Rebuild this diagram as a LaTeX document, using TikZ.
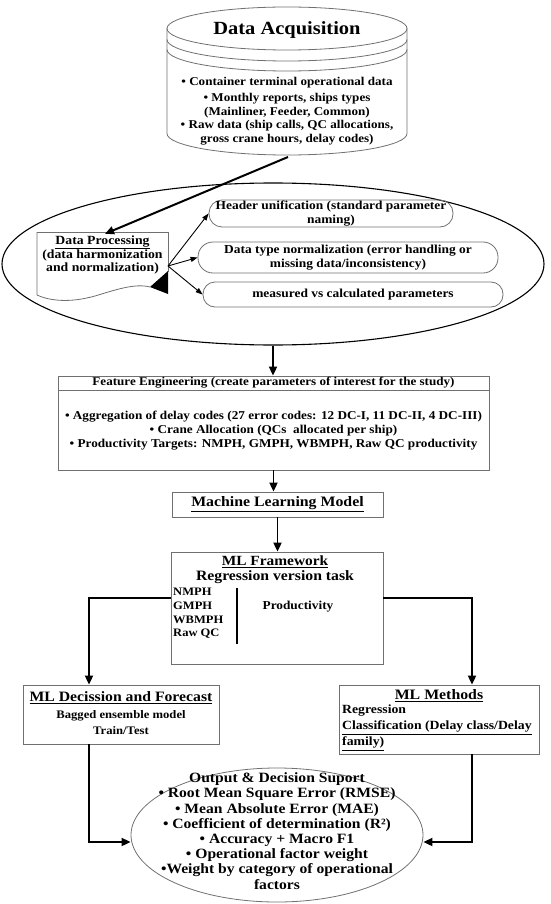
\documentclass[tikz,border=0pt]{standalone}
\usepackage{fontspec}
\setmainfont{Liberation Serif}[FakeStretch=1.1]
\usetikzlibrary{arrows.meta,shapes.geometric}
\definecolor{boxgray}{HTML}{707070}
\newcommand{\myfs}[2]{\fontsize{#1}{#2}\selectfont\bfseries}
\begin{document}
\begin{tikzpicture}[x=1pt,y=-1pt,
  conn/.style={line width=1.8pt,-{Triangle[length=9pt,width=8pt]}},
  thinconn/.style={line width=0.9pt,-{Triangle[length=7pt,width=5pt]}},
  cylline/.style={draw=boxgray,line width=0.8pt},
  graybox/.style={draw=boxgray,line width=0.8pt,rectangle,inner sep=0pt},
  pill/.style={draw=boxgray,line width=0.8pt,rectangle,inner sep=0pt,align=center,font={\myfs{12.2}{14}}},
  txt/.style={inner sep=0pt,align=center}]
\useasboundingbox (0,0) rectangle (550,904);

% ---------- Data acquisition cylinder
\draw[cylline] (287,28.5) ellipse[x radius=120,y radius=21.5];
\draw[cylline] (167,39.5) arc[start angle=180,end angle=0,x radius=120,y radius=21.5];
\draw[cylline] (167,49.5) arc[start angle=180,end angle=0,x radius=120,y radius=21.5];
\draw[cylline] (167,28.5) -- (167,133.5) arc[start angle=180,end angle=0,x radius=120,y radius=21.5] -- (407,28.5);
\node[txt,font={\myfs{18.6}{20}}] (acqtitle) at (287,30) {Data Acquisition};
\node[txt,font={\myfs{11.9}{13.5}}] (acqbody) at (287,111) {• Container terminal operational data\\[2.5pt]
 • Monthly reports, ships types\\ (Mainliner, Feeder, Common)\\ • Raw data (ship calls, QC allocations,\\ gross crane hours, delay codes)};
\coordinate (acqbot) at (288,157);

% ---------- Data processing ellipse
\node[draw,line width=1.1pt,ellipse,minimum width=542pt,minimum height=162pt,inner sep=0pt] (pell) at (273,264) {};

\node[txt,minimum width=131pt,minimum height=40pt,font={\myfs{12.5}{13.5}}] (proc) at (102.5,255)
 {\underline{Data Processing}\\(data harmonization\\and normalization)};
\draw[cylline] (37,232) -- (168,232) -- (168,272);
\draw[cylline] (37,232) -- (37,295) .. controls (50,301) and (70,303) .. (95,296)
  .. controls (115,290) and (135,283) .. (150,287);
\fill (150,287) -- (168,271) -- (168,294) -- cycle;
\coordinate (procout) at (168,266);

\node[pill,rounded corners=13pt,minimum width=244pt,minimum height=27pt] (hdr) at (331,213.5)
 {Header unification (standard parameter\\naming)};
\node[pill,rounded corners=15pt,minimum width=300pt,minimum height=31pt] (dtn) at (348,257.5)
 {Data type normalization (error handling or\\missing data/inconsistency)};
\node[pill,rounded corners=12pt,minimum width=300pt,minimum height=25pt] (mvc) at (353,294.5)
 {measured vs calculated parameters};

\draw[thinconn] (procout) -- (hdr.west);
\draw[thinconn] (procout) -- (dtn.west);
\draw[thinconn] (procout) -- (mvc.west);
\draw[conn,line width=2pt] (acqbot) -- ([xshift=2.5pt,yshift=1pt]proc.north);

% ---------- Feature engineering
\node[graybox,minimum width=431pt,minimum height=94pt] (fe) at (273.5,423) {};
\node[txt,font={\myfs{11.9}{14}}] (fehead) at (273.5,383) {Feature Engineering (create parameters of interest for the study)};
\draw[cylline] (58,390) -- (489,390);
\node[txt,font={\myfs{12}{14}}] (febody) at (273.5,430.5)
 {• Aggregation of delay codes (27 error codes: 12 DC-I, 11 DC-II, 4 DC-III)\\
  • Crane Allocation (QCs~ allocated per ship)\\
  • Productivity Targets: NMPH, GMPH, WBMPH, Raw QC productivity};

% ---------- Machine learning model
\node[graybox,minimum width=211pt,minimum height=25pt,font={\myfs{14.4}{16}}] (mlm) at (277.5,504.5) {\underline{Machine Learning Model}};

% ---------- ML framework
\node[graybox,minimum width=212pt,minimum height=112pt] (mlf) at (277,608) {};
\node[txt,font={\myfs{14}{16}}] (mlftitle) at (275,562) {\underline{ML Framework}};
\node[txt,font={\myfs{14.3}{16}}] (mlfsub) at (275,577.5) {Regression version task};
\node[txt,anchor=west,align=left,font={\myfs{11.4}{13.7}}] (mlflist) at (173,613.5) {NMPH\\GMPH\\WBMPH\\Raw QC};
\draw[line width=1.5pt] (237,588) -- (237,644);
\node[txt,font={\myfs{12.1}{14}}] (prod) at (298,607) {Productivity};

% ---------- ML decision and forecast
\node[graybox,minimum width=196pt,minimum height=59pt] (mldf) at (121,714.5) {};
\node[txt,font={\myfs{14.3}{16}}] (mldftitle) at (121,698) {\underline{ML Decission and Forecast}};
\node[txt,font={\myfs{11.5}{16}}] (mldfbody) at (121,723) {Bagged ensemble model\\Train/Test};

% ---------- ML methods
\node[graybox,minimum width=200pt,minimum height=69pt] (mlm2) at (439,719.5) {};
\node[txt,font={\myfs{14.4}{16}}] (mlm2title) at (439,696) {\underline{ML Methods}};
\node[txt,anchor=west,align=left,font={\myfs{12.5}{16}}] (mlm2body) at (342,728)
 {Regression\\\underline{Classification (Delay class/Delay}\\\underline{family)}};

% ---------- Output ellipse
\node[draw=boxgray,line width=0.8pt,ellipse,minimum width=292pt,minimum height=134pt,inner sep=0pt] (out) at (277,835) {};
\node[txt,font={\myfs{14.2}{15.2}}] (outtxt) at (277,831)
 {Output \& Decision Suport\\
  • Root Mean Square Error (RMSE)\\
  • Mean Absolute Error (MAE)\\
  • Coefficient of determination (R²)\\
  • Accuracy + Macro F1\\
  • Operational factor weight\\
  •Weight by category of operational\\
  factors};

% ---------- connectors
\draw[conn] (pell.south) -- (pell.south |- fe.north);
\draw[conn] (fe.south) -- (fe.south |- mlm.north);
\draw[conn] (mlm.south) -- (mlm.south |- mlf.north);
\draw[conn] ([yshift=10pt]mlf.west) -| ([xshift=-32pt]mldf.north);
\draw[conn] ([yshift=10pt]mlf.east) -| ([xshift=33pt]mlm2.north);
\draw[conn] ([xshift=-32pt]mldf.south) |- ([yshift=-7pt]out.west);
\draw[conn] ([xshift=33pt]mlm2.south) |- ([yshift=-7pt]out.east);
\end{tikzpicture}
\end{document}
